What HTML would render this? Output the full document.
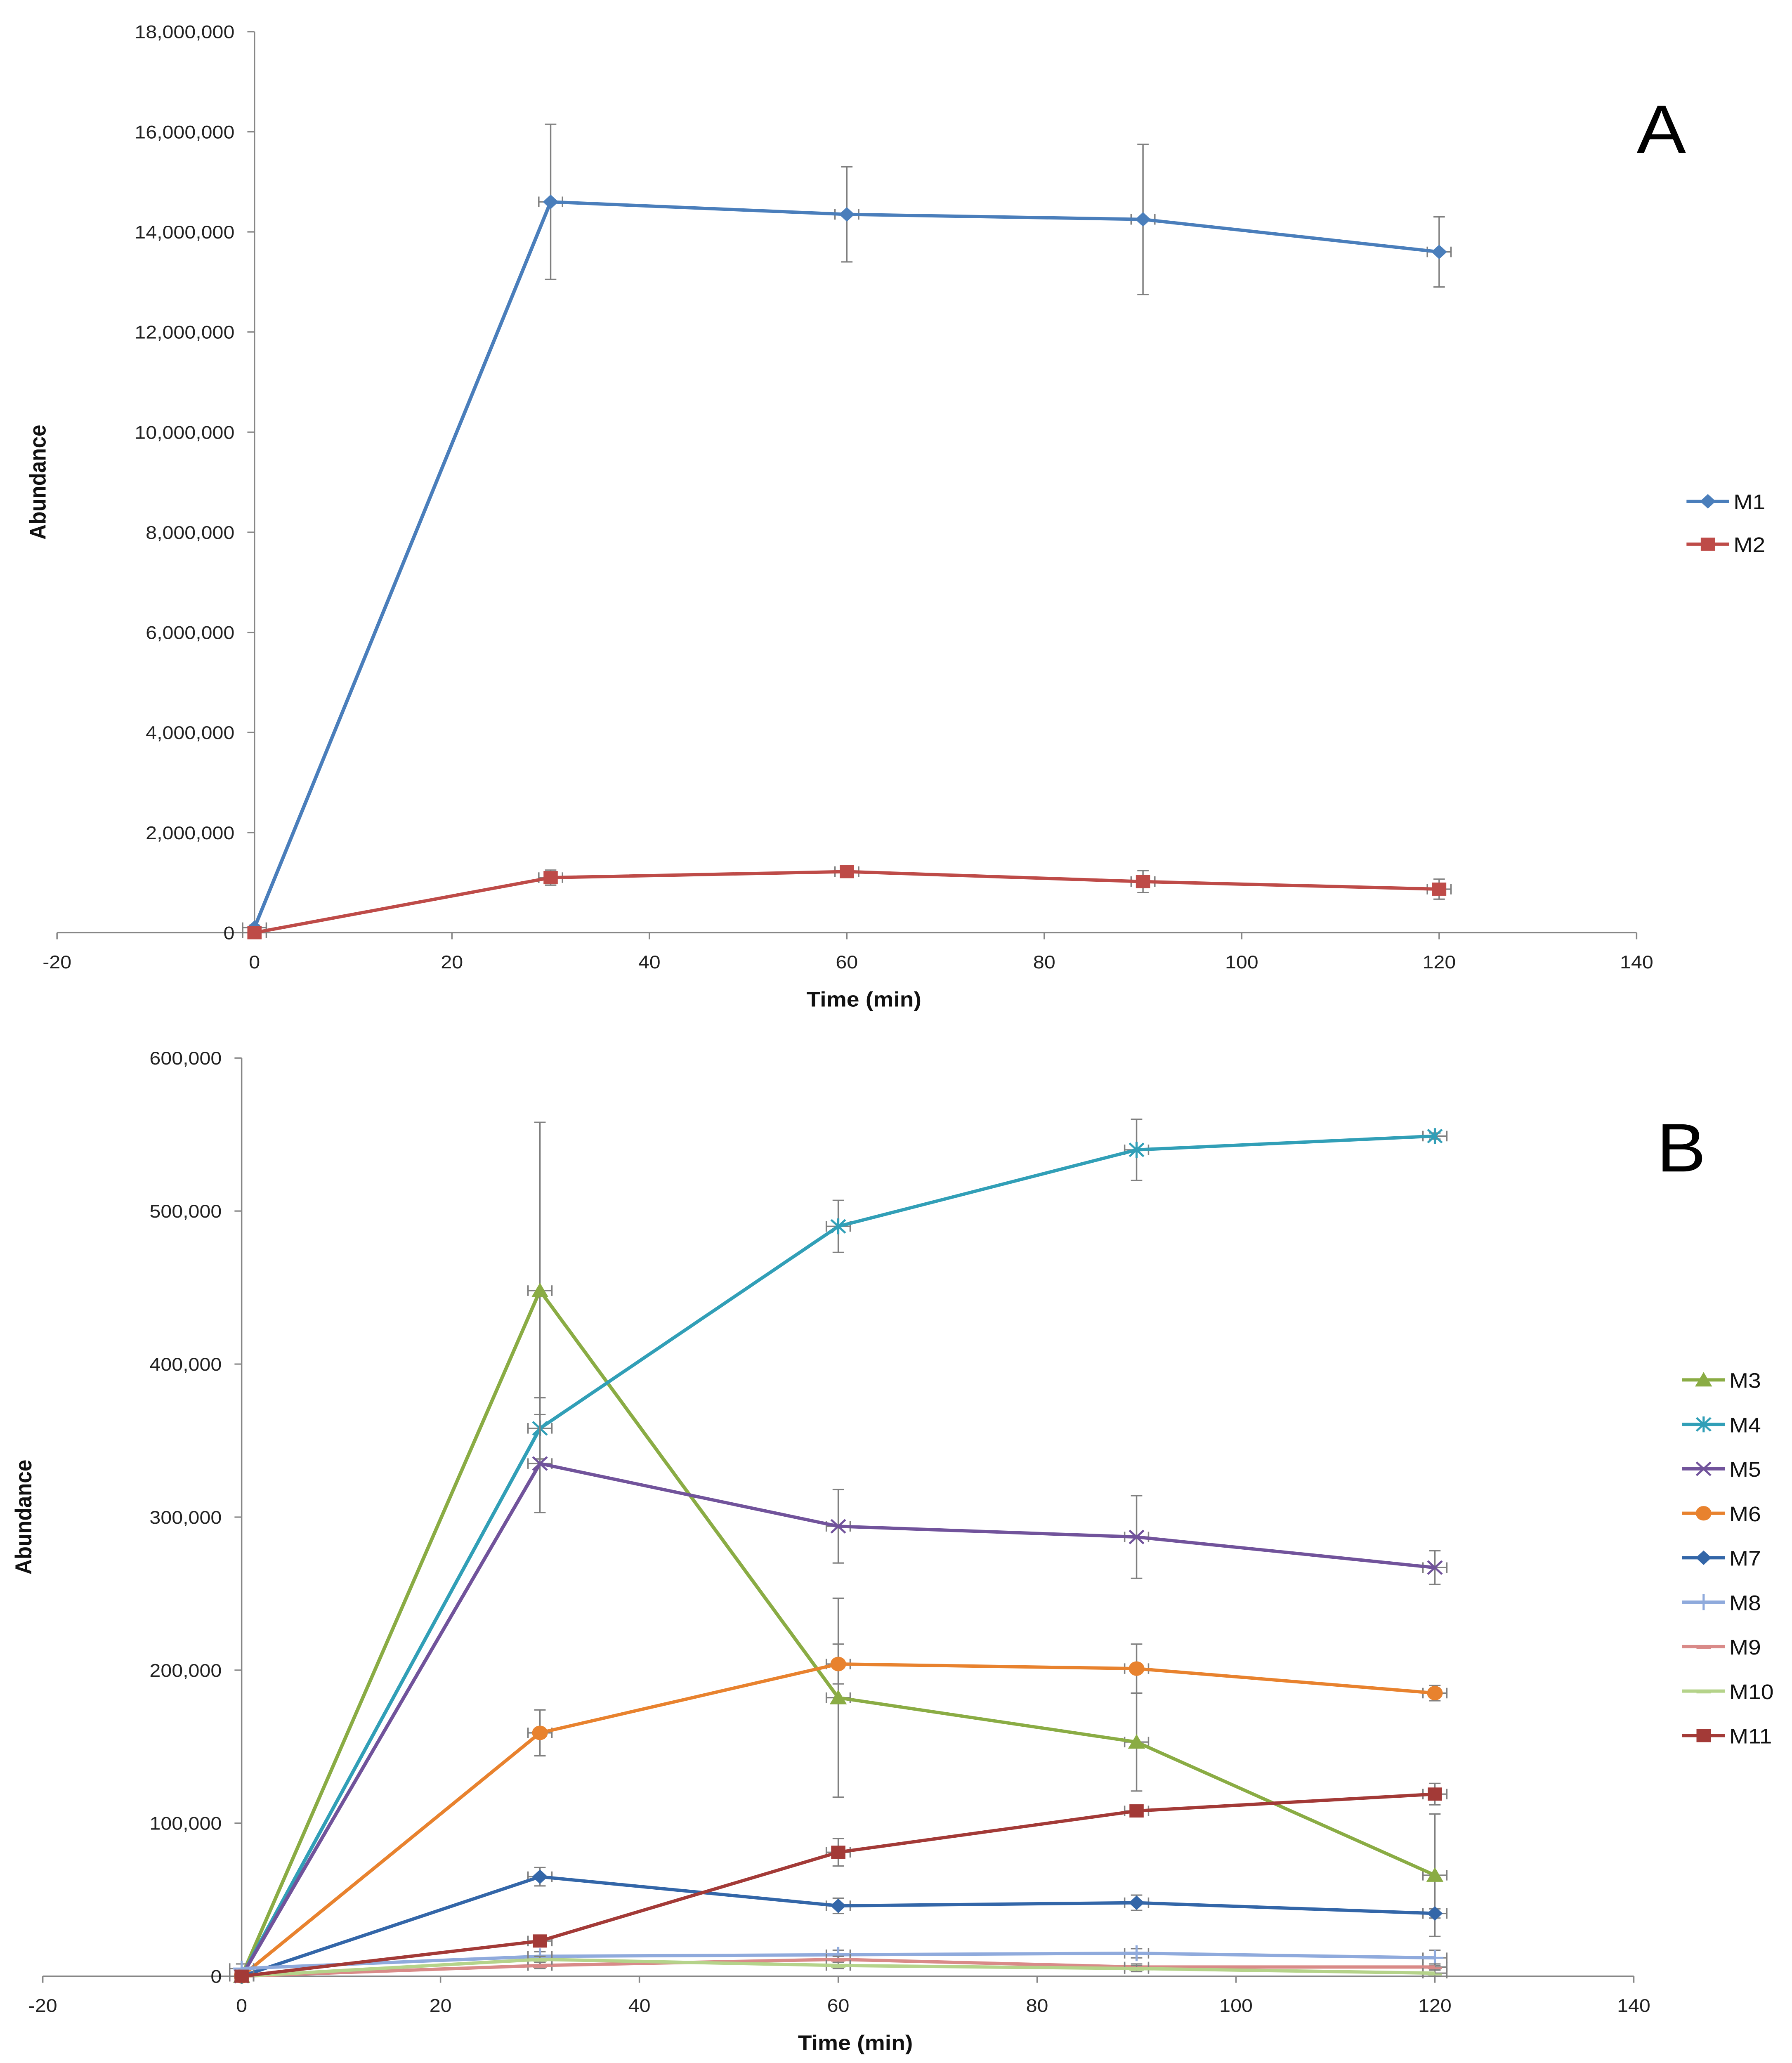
<!DOCTYPE html>
<html><head><meta charset="utf-8"><style>
html,body{margin:0;padding:0;background:#fff;overflow:hidden;width:100%;height:100%;}
svg{display:block;position:absolute;left:0;top:0;width:100vw;height:100vh;font-family:"Liberation Sans",Arial,sans-serif;}
</style></head><body>
<svg id="chart" viewBox="0 0 1257 1563.8" preserveAspectRatio="none" xmlns="http://www.w3.org/2000/svg"></svg>
<script>
// ---------- DATA ----------
const times = [0, 30, 60, 90, 120];
const xTicks = [-20, 0, 20, 40, 60, 80, 100, 120, 140];
const yTicksA = [0, 2000000, 4000000, 6000000, 8000000, 10000000, 12000000, 14000000, 16000000, 18000000];
const yTicksB = [0, 100000, 200000, 300000, 400000, 500000, 600000];
const namesA = ["M1", "M2"];
const m1 = [100000, 14600000, 14350000, 14250000, 13600000];
const m1err = [50000, 1550000, 950000, 1500000, 700000];
const m2 = [0, 1100000, 1220000, 1020000, 870000];
const m2err = [0, 150000, 100000, 220000, 200000];
const namesB = ["M3","M4","M5","M6","M7","M8","M9","M10","M11"];
const m3 = [0, 448000, 182000, 153000, 66000];
const m3err = [0, 110000, 65000, 32000, 40000];
const m4 = [0, 358000, 490000, 540000, 549000];
const m4err = [0, 20000, 17000, 20000, 2000];
const m5 = [0, 335000, 294000, 287000, 267000];
const m5err = [0, 32000, 24000, 27000, 11000];
const m6 = [0, 159000, 204000, 201000, 185000];
const m6err = [0, 15000, 13000, 16000, 5000];
const m7 = [0, 65000, 46000, 48000, 41000];
const m7err = [0, 6000, 5000, 5000, 3000];
const m8 = [5000, 13000, 14000, 15000, 12000];
const m8err = [3000, 3000, 3000, 3000, 5000];
const m9 = [0, 7000, 11000, 6000, 6000];
const m9err = [0, 2000, 2000, 2000, 2000];
const m10 = [0, 11000, 7000, 5000, 2000];
const m10err = [0, 2000, 2000, 2000, 2000];
const m11 = [0, 23000, 81000, 108000, 119000];
const m11err = [0, 3000, 9000, 3000, 7000];

// ---------- drawing ----------
const svg = document.getElementById('chart');
const NS = 'http://www.w3.org/2000/svg';
function mk(tag, attrs, parent){ const e=document.createElementNS(NS,tag); for(const k in attrs) e.setAttribute(k,attrs[k]); (parent||svg).appendChild(e); return e; }
const fmt = v => v.toLocaleString('en-US');

function panel(cfg){
  const g = mk('g',{});
  
  
  const xS = v => cfg.x0 + (v - (-20)) / 160 * (cfg.x1 - cfg.x0);
  const yS = v => cfg.yb - v / cfg.ymax * (cfg.yb - cfg.yt);
  const zx = xS(0);
  const ya = mk('line',{x1:zx,y1:cfg.yt,x2:zx,y2:cfg.yb,stroke:'#868686','stroke-width':1},g);
   
  const xa = mk('line',{x1:cfg.x0,y1:cfg.yb,x2:cfg.x1,y2:cfg.yb,stroke:'#868686','stroke-width':1},g);
   
  cfg.yTicks.forEach(t=>{
    mk('line',{x1:zx-5,y1:yS(t),x2:zx,y2:yS(t),stroke:'#868686'},g);
    const tx = mk('text',{x:zx-14,y:yS(t)+5,'text-anchor':'end','font-size':14,fill:'#222'},g);
    tx.textContent = fmt(t);
     
  });
  xTicks.forEach(t=>{
    mk('line',{x1:xS(t),y1:cfg.yb,x2:xS(t),y2:cfg.yb+5,stroke:'#868686'},g);
    const tx = mk('text',{x:xS(t),y:cfg.yb+27,'text-anchor':'middle','font-size':14,fill:'#222'},g);
    tx.textContent = t;
     
  });
  const xt = mk('text',{x:(cfg.x0+cfg.x1)/2+12,y:cfg.yb+56,'text-anchor':'middle','font-size':16,'font-weight':'bold',fill:'#111'},g);
  xt.textContent='Time (min)';
   
  const ytx = cfg.ytitleX, yty=(cfg.yt+cfg.yb)/2;
  const yt = mk('text',{x:ytx,y:yty,'text-anchor':'middle','font-size':16,'font-weight':'bold',fill:'#111',transform:`rotate(-90 ${ytx} ${yty})`},g);
  yt.textContent='Abundance';
   
  const pl = mk('text',{x:cfg.letterX,y:cfg.letterY,'font-size':52,fill:'#000'},g);
  pl.textContent=cfg.letter;
   

  cfg.series.forEach((s,si)=>{
    const sg = mk('g',{},g);
    
    
    s.vals.forEach((v,i)=>{
      const x=xS(times[i]), e=s.err[i];
      const eb = mk('g',{stroke:'#7f7f7f','stroke-width':1},sg);
       
      mk('line',{x1:x,y1:yS(v+e),x2:x,y2:yS(v-e)},eb);
      mk('line',{x1:x-4,y1:yS(v+e),x2:x+4,y2:yS(v+e)},eb);
      mk('line',{x1:x-4,y1:yS(v-e),x2:x+4,y2:yS(v-e)},eb);
      mk('line',{x1:xS(times[i]-1.2),y1:yS(v),x2:xS(times[i]+1.2),y2:yS(v)},eb);
      mk('line',{x1:xS(times[i]-1.2),y1:yS(v)-4,x2:xS(times[i]-1.2),y2:yS(v)+4},eb);
      mk('line',{x1:xS(times[i]+1.2),y1:yS(v)-4,x2:xS(times[i]+1.2),y2:yS(v)+4},eb);
    });
    const pts = s.vals.map((v,i)=>xS(times[i])+','+yS(v)).join(' ');
    const ln = mk('polyline',{points:pts,fill:'none',stroke:s.color,'stroke-width':2.5},sg);
     
    s.vals.forEach((v,i)=>{
      const m = marker(sg, s.mk, xS(times[i]), yS(v), s.color);
       
    });
    const ly = cfg.legY + si*cfg.legStep;
    const lg = mk('g',{},g);
     
    mk('line',{x1:cfg.legX,y1:ly,x2:cfg.legX+30,y2:ly,stroke:s.color,'stroke-width':2.5},lg);
    marker(lg, s.mk, cfg.legX+15, ly, s.color);
    const lt = mk('text',{x:cfg.legX+33,y:ly+6,'font-size':16,fill:'#111'},lg);
    lt.textContent=s.name;
  });
}
function marker(p,type,x,y,c){
  const r=5.5;
  if(type==='diamond') return mk('polygon',{points:`${x},${y-r} ${x+r},${y} ${x},${y+r} ${x-r},${y}`,fill:c},p);
  if(type==='square') return mk('rect',{x:x-5,y:y-5,width:10,height:10,fill:c},p);
  if(type==='triangle') return mk('polygon',{points:`${x},${y-6} ${x+6},${y+5} ${x-6},${y+5}`,fill:c},p);
  if(type==='circle') return mk('circle',{cx:x,cy:y,r:5.5,fill:c},p);
  const g=mk('g',{stroke:c,'stroke-width':1.5},p);
  if(type==='star'){ mk('line',{x1:x-5,y1:y-5,x2:x+5,y2:y+5},g); mk('line',{x1:x-5,y1:y+5,x2:x+5,y2:y-5},g); mk('line',{x1:x,y1:y-6,x2:x,y2:y+6},g); }
  if(type==='x'){ mk('line',{x1:x-5,y1:y-5,x2:x+5,y2:y+5},g); mk('line',{x1:x-5,y1:y+5,x2:x+5,y2:y-5},g); }
  if(type==='plus'){ mk('line',{x1:x,y1:y-6,x2:x,y2:y+6},g); mk('line',{x1:x-6,y1:y,x2:x+6,y2:y},g); }
  if(type==='dash'){ mk('line',{x1:x-5,y1:y+1,x2:x+5,y2:y+1},g); }
  return g;
}

panel({id:'panel-a',letter:'A',letterX:1148,letterY:116,x0:40,x1:1148,yt:24,yb:707,ymax:18000000,yTicks:yTicksA,ytitleX:32,
  legX:1183,legY:380,legStep:32.5,
  series:[
    {name:namesA[0],vals:m1,err:m1err,color:'#4a7ebb',mk:'diamond'},
    {name:namesA[1],vals:m2,err:m2err,color:'#be4b48',mk:'square'}
  ]});
panel({id:'panel-b',letter:'B',letterX:1162,letterY:888,x0:30,x1:1146,yt:802,yb:1498,ymax:600000,yTicks:yTicksB,ytitleX:22,
  legX:1180,legY:1046,legStep:33.7,
  series:[
    {name:namesB[0],vals:m3,err:m3err,color:'#8aac44',mk:'triangle'},
    {name:namesB[1],vals:m4,err:m4err,color:'#319fb7',mk:'star'},
    {name:namesB[2],vals:m5,err:m5err,color:'#71539b',mk:'x'},
    {name:namesB[3],vals:m6,err:m6err,color:'#e8822e',mk:'circle'},
    {name:namesB[4],vals:m7,err:m7err,color:'#3366a8',mk:'diamond'},
    {name:namesB[5],vals:m8,err:m8err,color:'#8faadc',mk:'plus'},
    {name:namesB[6],vals:m9,err:m9err,color:'#d98a88',mk:'dash'},
    {name:namesB[7],vals:m10,err:m10err,color:'#b5d38a',mk:'dash'},
    {name:namesB[8],vals:m11,err:m11err,color:'#a33a37',mk:'square'}
  ]});
</script>
</body></html>
